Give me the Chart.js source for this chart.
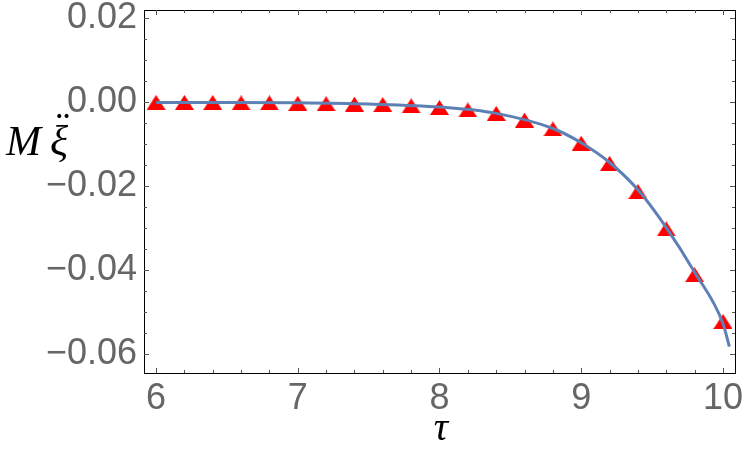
<!DOCTYPE html>
<html><head><meta charset="utf-8">
<script src="https://cdn.jsdelivr.net/npm/chart.js@4"></script>
<style>html,body{margin:0;padding:0;background:#fff}#wrap{width:750px;height:452px;position:relative}</style>
</head><body><div id="wrap"><canvas id="c" width="750" height="452"></canvas></div>
<script>
// ---- data ----
const tau = [6.0, 6.2, 6.4, 6.6, 6.8, 7.0, 7.2, 7.4, 7.6, 7.8, 8.0, 8.2, 8.4, 8.6, 8.8, 9.0, 9.2, 9.4, 9.6, 9.8, 10.0];
const xiDDot = [-0.0001, -0.0001, -0.0001, -0.0002, -0.0002, -0.0003, -0.0004, -0.0005, -0.0006, -0.0009, -0.0013, -0.0019, -0.0027, -0.0043, -0.0064, -0.0098, -0.0146, -0.0213, -0.0302, -0.0411, -0.0522];
const curveTau = [6.0, 6.5, 7.0, 7.5, 8.0, 8.4, 8.8, 9.0, 9.2, 9.4, 9.6, 9.8, 10.0, 10.045];
const curveVal = [-0.0001, -0.0001, -0.0002, -0.0005, -0.0012, -0.0027, -0.0063, -0.0097, -0.0144, -0.0209, -0.0299, -0.0405, -0.0527, -0.0582];
const xTicks = [6, 7, 8, 9, 10];
const yTicks = [-0.06, -0.04, -0.02, 0.00, 0.02];
const xTitle = 'τ';
const yTitleM = 'M';
const yTitleXi = 'ξ';
const yTitleDots = '¨';

// ---- marker: triangle centred on its bounding box ----
const tri = document.createElement('canvas');
tri.width = 19; tri.height = 15;
(function(){const t=tri.getContext('2d');t.fillStyle='#ff0000';t.beginPath();t.moveTo(9.5,0);t.lineTo(19,15);t.lineTo(0,15);t.closePath();t.fill();})();

const frame = {
  id: 'frame',
  afterDatasetsDraw(chart) {
    const {ctx, chartArea: a, scales: {x, y}} = chart;
    ctx.save();
    ctx.strokeStyle = '#000'; ctx.lineWidth = 1;
    ctx.strokeRect(Math.round(a.left)+0.5, Math.round(a.top)+0.5, Math.round(a.right-a.left), Math.round(a.bottom-a.top));
    ctx.strokeStyle = '#555';
    const maj = 5, min = 3;
    for (let i = 0; i <= 25; i++) {
      const v = 5.8 + i*0.2; if (v < x.min || v > x.max) continue;
      const px = Math.round(x.getPixelForValue(v)) + 0.5;
      const major = Math.abs(v - Math.round(v)) < 1e-6;
      const L = major ? maj : min;
      ctx.beginPath(); ctx.moveTo(px, a.bottom); ctx.lineTo(px, a.bottom - L); ctx.moveTo(px, a.top); ctx.lineTo(px, a.top + L); ctx.stroke();
    }
    for (let i = 0; i <= 20; i++) {
      const v = -0.07 + i*0.005; if (v < y.min || v > y.max) continue;
      const py = Math.round(y.getPixelForValue(v)) + 0.5;
      const major = Math.abs(v/0.02 - Math.round(v/0.02)) < 1e-6;
      const L = major ? maj : min;
      ctx.beginPath(); ctx.moveTo(a.left, py); ctx.lineTo(a.left + L, py); ctx.moveTo(a.right, py); ctx.lineTo(a.right - L, py); ctx.stroke();
    }
    ctx.fillStyle = '#000';
    ctx.font = 'italic 40px "Liberation Serif"';
    ctx.textBaseline = 'alphabetic';
    ctx.textAlign = 'center';
    ctx.fillText(xTitle, 441, 440);
    ctx.textAlign = 'left';
    ctx.font = 'italic 42px "Liberation Serif"';
    ctx.fillText(yTitleM, 6, 155);
    ctx.fillText(yTitleXi, 50, 155);
    ctx.fillText(yTitleDots, 53, 141);
    ctx.restore();
  }
};

const noPad = s => { s.paddingTop = 0; s.paddingBottom = 0; s.paddingLeft = 0; s.paddingRight = 0; };

new Chart(document.getElementById('c'), {
  type: 'scatter',
  data: {
    datasets: [
      { data: curveTau.map((t,i)=>({x:t,y:curveVal[i]})), showLine: true, pointRadius: 0, borderColor: '#5E81B5', borderWidth: 3, cubicInterpolationMode: 'monotone', fill: false },
      { data: tau.map((t,i)=>({x:t,y:xiDDot[i]})), showLine: false, pointStyle: tri, pointRadius: 9, backgroundColor: '#ff0000', borderColor: '#ff0000' }
    ]
  },
  options: {
    responsive: false, animation: false,
    layout: { padding: { left: 0, top: 7, right: 15, bottom: 0 } },
    plugins: { legend: { display: false }, tooltip: { enabled: false } },
    scales: {
      x: {
        type: 'linear', min: 5.915, max: 10.085,
        grid: { display: false, drawTicks: false }, border: { display: false },
        afterBuildTicks: s => { s.ticks = xTicks.map(v => ({ value: v })); },
        afterFit: s => { s.height = 79; noPad(s); },
        ticks: { color: '#666', font: { family: '"Liberation Sans"', size: 36 }, padding: 4, maxRotation: 0, autoSkip: false, callback: v => String(v) }
      },
      y: {
        type: 'linear', min: -0.0645, max: 0.0219,
        grid: { display: false, drawTicks: false }, border: { display: false },
        afterBuildTicks: s => { s.ticks = yTicks.map(v => ({ value: v })); },
        afterFit: s => { s.width = 144; noPad(s); },
        ticks: { color: '#666', font: { family: '"Liberation Sans"', size: 36 }, padding: 7, autoSkip: false, callback: v => Number(v).toFixed(2).replace('-', '\u2212') }
      }
    }
  },
  plugins: [frame]
});
</script></body></html>
